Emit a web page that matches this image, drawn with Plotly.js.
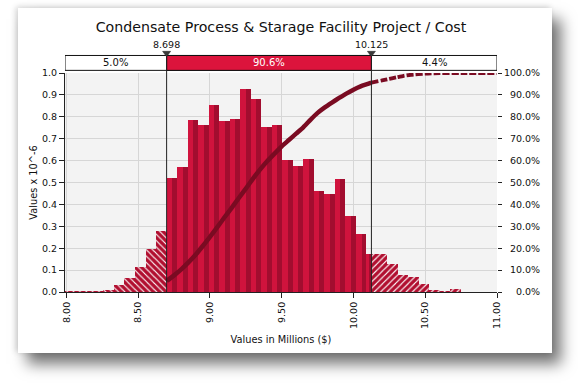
<!DOCTYPE html>
<html><head><meta charset="utf-8">
<script src="https://cdn.plot.ly/plotly-3.0.1.min.js"></script>
<style>
html,body{margin:0;padding:0;background:#fff;width:578px;height:383px;overflow:hidden;}
#card{position:absolute;left:18px;top:8px;width:534px;height:345px;background:#fff;
 box-shadow:9px 11px 14px rgba(0,0,0,0.55), -2px -1px 6px rgba(0,0,0,0.18);}
#chart{position:absolute;left:0;top:0;width:578px;height:383px;}
</style></head><body>
<div id="card"></div><div id="chart"></div>
<script>
// Histogram bin edges (millions $) and bar heights (values x 10^-6)
const binEdges = [7.965, 8.038, 8.111, 8.185, 8.258, 8.331, 8.404, 8.478, 8.551, 8.624,
  8.698, 8.771, 8.844, 8.917, 8.990, 9.064, 9.137, 9.210, 9.283, 9.357, 9.430,
  9.503, 9.576, 9.650, 9.723, 9.796, 9.869, 9.942, 10.016, 10.089, 10.162,
  10.235, 10.309, 10.382, 10.455, 10.528, 10.602, 10.675, 10.748];
const density = [0.005, 0.006, 0.006, 0.005, 0.010, 0.033, 0.064, 0.112, 0.198, 0.280,
  0.521, 0.571, 0.787, 0.764, 0.855, 0.782, 0.791, 0.928, 0.883, 0.755,
  0.764, 0.604, 0.577, 0.609, 0.459, 0.449, 0.517, 0.348, 0.266, 0.175,
  0.172, 0.129, 0.076, 0.067, 0.038, 0.0105, 0.003, 0.015];

// Delimiters and band percentages
const lowCut = 8.698, highCut = 10.125;
const cutLabels = ['8.698', '10.125'];
const bandLabels = ['5.0%', '90.6%', '4.4%'];

// Cumulative curve (percent)
const cumX = [8.698, 8.75, 8.80, 8.85, 8.90, 8.95, 9.00, 9.05, 9.10, 9.15, 9.20, 9.25, 9.30,
  9.35, 9.40, 9.45, 9.50, 9.55, 9.60, 9.65, 9.70, 9.75, 9.80, 9.85, 9.90, 9.95, 10.00,
  10.05, 10.10, 10.125];
const cumY = [5.0, 7.6, 10.3, 13.5, 17.0, 21.0, 25.2, 29.5, 34.0, 38.3, 42.8, 47.2, 51.8,
  56.0, 59.8, 63.2, 66.5, 69.4, 72.3, 75.2, 78.6, 81.8, 84.3, 86.5, 88.6, 90.6, 92.4,
  93.9, 95.0, 95.6];
const tailX = [10.125, 10.2, 10.25, 10.3, 10.35, 10.4, 10.5, 10.6, 10.75, 11.0];
const tailY = [95.6, 96.6, 97.3, 98.0, 98.7, 99.2, 99.7, 99.9, 100, 100];

// Axis ticks
const xTicks = [8.0, 8.5, 9.0, 9.5, 10.0, 10.5, 11.0];
const xTickText = ['8.00', '8.50', '9.00', '9.50', '10.00', '10.50', '11.00'];
const yTicks = [0, 0.1, 0.2, 0.3, 0.4, 0.5, 0.6, 0.7, 0.8, 0.9, 1.0];
const y2Ticks = [0, 10, 20, 30, 40, 50, 60, 70, 80, 90, 100];

// ---- build split bars ----
const segs = {left: {x: [], y: [], w: []}, mid: {x: [], y: [], w: []}, right: {x: [], y: [], w: []}};
function addSeg(s, a, b, v) { if (b - a > 1e-6) { s.x.push((a + b) / 2); s.w.push(b - a); s.y.push(v); } }
for (let i = 0; i < density.length; i++) {
  const lo = binEdges[i], hi = binEdges[i + 1], v = density[i];
  addSeg(segs.left, lo, Math.min(hi, lowCut), v);
  addSeg(segs.mid, Math.max(lo, lowCut), Math.min(hi, highCut), v);
  addSeg(segs.right, Math.max(lo, highCut), hi, v);
}
// bright left part of each solid bar (shading like the original gradient)
const hiFrac = 0.55;
const midHi = {x: segs.mid.x.map((c, i) => c - segs.mid.w[i] / 2 + segs.mid.w[i] * hiFrac / 2),
               w: segs.mid.w.map(w => w * hiFrac), y: segs.mid.y};

const FS = '"DejaVu Sans", Verdana, sans-serif';
const hatchCol = '#b10f30';
const hatchPat = shape => ({shape: shape, fgcolor: '#ffffff', bgcolor: hatchCol, fgopacity: 1,
  fillmode: 'replace', size: 4.5, solidity: 0.25});
const traces = [
  {type: 'bar', x: segs.left.x, y: segs.left.y, width: segs.left.w, hoverinfo: 'skip',
   marker: {color: hatchCol, line: {width: 0}, pattern: hatchPat('\\')}},
  {type: 'bar', x: segs.mid.x, y: segs.mid.y, width: segs.mid.w, hoverinfo: 'skip',
   marker: {color: '#a20d2f', line: {width: 0}}},
  {type: 'bar', x: midHi.x, y: midHi.y, width: midHi.w, hoverinfo: 'skip',
   marker: {color: '#d0133d', line: {width: 0}}},
  {type: 'bar', x: segs.right.x, y: segs.right.y, width: segs.right.w, hoverinfo: 'skip',
   marker: {color: hatchCol, line: {width: 0}, pattern: hatchPat('/')}},
  {type: 'scatter', mode: 'lines', x: cumX, y: cumY, yaxis: 'y2', hoverinfo: 'skip',
   line: {color: '#7a0b22', width: 4.5, shape: 'spline', smoothing: 0.6}},
  {type: 'scatter', mode: 'lines', x: tailX, y: tailY, yaxis: 'y2', hoverinfo: 'skip',
   line: {color: '#7a0b22', width: 3.8, dash: '7px,2px', shape: 'spline', smoothing: 0.6}}
];

const xMin = 7.99, xMax = 11.0;
const bandBot = 1.012, bandTop = 1.080, triTop = 1.099, triApex = 1.074, tw = 0.028;
const shapes = [
  {type: 'rect', xref: 'x', yref: 'paper', x0: xMin, x1: xMax, y0: bandBot, y1: bandTop,
   fillcolor: '#ffffff', line: {color: '#111', width: 1}},
  {type: 'rect', xref: 'x', yref: 'paper', x0: lowCut, x1: highCut, y0: bandBot, y1: bandTop,
   fillcolor: '#dc143c', line: {color: '#111', width: 1}},
  {type: 'line', xref: 'x', yref: 'paper', x0: lowCut, x1: lowCut, y0: 0, y1: bandTop, line: {color: '#222', width: 1}},
  {type: 'line', xref: 'x', yref: 'paper', x0: highCut, x1: highCut, y0: 0, y1: bandTop, line: {color: '#222', width: 1}},
];
[lowCut, highCut].forEach(c => shapes.push({type: 'path', xref: 'x', yref: 'paper',
  path: `M ${c - tw},${triTop} L ${c + tw},${triTop} L ${c},${triApex} Z`,
  fillcolor: '#3a3a3a', line: {color: '#222', width: 0.5}}));

const ann = (x, y, t, col, sz) => ({xref: 'x', yref: 'paper', x: x, y: y, text: t, showarrow: false,
  xanchor: 'center', yanchor: 'middle', font: {family: FS, size: sz, color: col}});
const bandMid = (bandBot + bandTop) / 2;
const annotations = [
  ann(lowCut, 1.128, cutLabels[0], '#111', 9.5),
  ann(highCut, 1.128, cutLabels[1], '#111', 9.5),
  ann((xMin + lowCut) / 2, bandMid, bandLabels[0], '#111', 10),
  ann((lowCut + highCut) / 2, bandMid, bandLabels[1], '#ffffff', 10),
  ann((highCut + xMax) / 2, bandMid, bandLabels[2], '#111', 10),
];

const fig = '\u2007';
const y2Text = y2Ticks.map(v => { const s = v.toFixed(1) + '%'; return fig.repeat(6 - s.length) + s; });

const layout = {
  width: 578, height: 383,
  paper_bgcolor: 'rgba(0,0,0,0)', plot_bgcolor: '#f3f3f3',
  margin: {l: 65, r: 81, t: 73, b: 91, pad: 0},
  showlegend: false, barmode: 'overlay', bargap: 0,
  title: {text: 'Condensate Process &amp; Starage Facility Project / Cost', x: 0.5, xref: 'paper',
    y: 1 - 27 / 383, yref: 'container', yanchor: 'middle', font: {family: FS, size: 14.2, color: '#111'}},
  font: {family: FS, color: '#111'},
  xaxis: {range: [xMin, xMax], tickvals: xTicks, ticktext: xTickText, tickangle: -90,
    ticks: 'outside', ticklen: 5, tickcolor: '#222', showline: true, linecolor: '#222', linewidth: 1,
    showgrid: true, gridcolor: '#d6d6d6', zeroline: false, tickfont: {family: FS, size: 9.5, color: '#111'},
    title: {text: 'Values in Millions ($)', font: {family: FS, size: 9.8, color: '#111'}, standoff: 8}},
  yaxis: {range: [0, 1.0], tickvals: yTicks, tickformat: '.1f', ticks: 'outside', ticklen: 5, tickcolor: '#222',
    showline: true, linecolor: '#222', linewidth: 1, showgrid: true, gridcolor: '#d6d6d6', zeroline: false,
    tickfont: {family: FS, size: 9.5, color: '#111'},
    title: {text: 'Values x 10^-6', font: {family: FS, size: 9.8, color: '#111'}, standoff: 2}},
  yaxis2: {overlaying: 'y', side: 'right', range: [0, 100], tickvals: y2Ticks, ticktext: y2Text,
    ticks: 'outside', ticklen: 4, tickcolor: '#222', showline: false, showgrid: false, zeroline: false,
    tickfont: {family: FS, size: 9.5, color: '#111'}},
  shapes: shapes, annotations: annotations
};
Plotly.newPlot('chart', traces, layout, {staticPlot: true, displayModeBar: false});
</script>
</body></html>
